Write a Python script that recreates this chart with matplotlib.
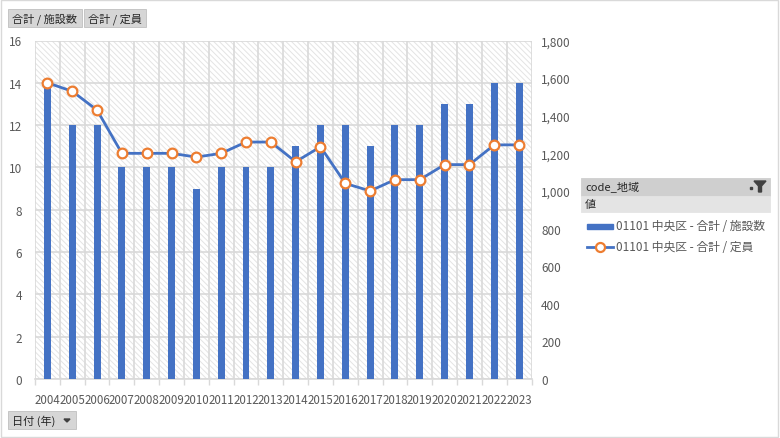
import matplotlib.pyplot as plt
from matplotlib.patches import Rectangle, Polygon
from matplotlib.lines import Line2D
import numpy as np

plt.rcParams['font.family'] = ['Noto Sans CJK JP', 'DejaVu Sans']
plt.rcParams['hatch.linewidth'] = 0.7

years = ['2004', '2005', '2006', '2007', '2008', '2009', '2010', '2011', '2012', '2013',
         '2014', '2015', '2016', '2017', '2018', '2019', '2020', '2021', '2022', '2023']
shisetsu = [14, 12, 12, 10, 10, 10, 9, 10, 10, 10, 11, 12, 12, 11, 12, 12, 13, 13, 14, 14]
teiin = [1575, 1530, 1430, 1200, 1200, 1200, 1180, 1200, 1260, 1260,
         1155, 1235, 1040, 1000, 1060, 1060, 1140, 1140, 1245, 1245]

blue = '#4472C4'
orange = '#ED7D31'
grey_txt = '#595959'
grid_c = '#d9d9d9'

W, H = 780, 439
fig = plt.figure(figsize=(W / 100, H / 100), dpi=100)


def fx(x):
    return x / W


def fy(y):
    return 1 - y / H


# plot area
x0, x1, y0, y1 = 35, 531.5, 41.5, 380
ax = fig.add_axes([fx(x0), fy(y1), fx(x1) - fx(x0), fy(y0) - fy(y1)])
xs = np.arange(len(years))

ax.add_patch(Rectangle((0, 0), 1, 1, transform=ax.transAxes, facecolor='white',
                       edgecolor='#e4e4e4', hatch='\\' * 6, lw=0, zorder=0))
ax.bar(xs, shisetsu, width=0.28, color=blue, zorder=3)
ax.set_xlim(-0.5, len(years) - 0.5)
ax.set_ylim(0, 16)
ax.set_yticks(range(0, 17, 2))
ax.set_xticks(xs)
ax.set_xticklabels(years)
ax.set_xticks(np.arange(-0.5, len(years), 1), minor=True)
ax.yaxis.grid(True, color=grid_c, lw=1.2, zorder=1)
ax.xaxis.grid(True, which='minor', color=grid_c, lw=1.2, zorder=1)
ax.set_axisbelow(True)
ax.tick_params(axis='x', which='major', length=0, pad=10, labelsize=8.3, colors=grey_txt)
ax.tick_params(axis='x', which='minor', length=4, color=grid_c, width=1)
ax.tick_params(axis='y', length=0, pad=9.5, labelsize=8.5, colors=grey_txt)
for s in ['top', 'right', 'left']:
    ax.spines[s].set_visible(False)
ax.spines['bottom'].set_color(grid_c)
ax.spines['bottom'].set_linewidth(1.2)

ax2 = ax.twinx()
ax2.plot(xs, teiin, color=blue, lw=2, marker='o', ms=7, mfc='white', mec=orange, mew=1.6, zorder=5)
ax2.set_ylim(0, 1800)
ax2.set_yticks(range(0, 1801, 200))
ax2.set_yticklabels([f'{v:,}' for v in range(0, 1801, 200)])
ax2.tick_params(axis='y', length=0, pad=7, labelsize=8.5, colors=grey_txt)
for s in ax2.spines.values():
    s.set_visible(False)


# buttons and field pane
def box(x, y, w, h, fc, ec='#bfbfbf'):
    fig.patches.append(Rectangle((fx(x), fy(y + h)), w / W, h / H, transform=fig.transFigure,
                                 facecolor=fc, edgecolor=ec, lw=0.6))


box(8, 10, 74, 18, '#d6d6d6')
box(84, 10, 62, 18, '#d6d6d6')
fig.text(fx(12), fy(19), '合計 / 施設数', fontsize=8, va='center', color='#262626')
fig.text(fx(88), fy(19), '合計 / 定員', fontsize=8, va='center', color='#262626')

box(8, 412, 68, 18, '#d6d6d6')
fig.text(fx(12), fy(421), '日付 (年)', fontsize=8, va='center', color='#262626')
fig.patches.append(Polygon([(fx(64), fy(420)), (fx(70), fy(420)), (fx(67), fy(423))],
                           closed=True, transform=fig.transFigure, color='#404040'))

box(581, 179, 189, 18, '#cfcfcf', ec='#cfcfcf')
box(581, 197, 189, 16, '#e4e4e4', ec='#e4e4e4')
fig.text(fx(585), fy(188), 'code_地域', fontsize=8, va='center', color='#262626')
fig.text(fx(585), fy(205), '値', fontsize=8, va='center', color='#262626')
fig.patches.append(Polygon([(fx(754), fy(182)), (fx(766), fy(182)), (fx(761.5), fy(187)),
                            (fx(761.5), fy(193)), (fx(758.5), fy(193)), (fx(758.5), fy(187))],
                           closed=True, transform=fig.transFigure, color='#404040'))
fig.patches.append(Rectangle((fx(750), fy(190)), 2 / W, 2 / H, transform=fig.transFigure, color='#404040'))

# legend
fig.patches.append(Rectangle((fx(587), fy(230)), 26 / W, 5 / H, transform=fig.transFigure, color=blue))
fig.text(fx(616), fy(227), '01101 中央区 - 合計 / 施設数', fontsize=8.5, va='center', color=grey_txt)
fig.lines.append(Line2D([fx(587), fx(613)], [fy(248), fy(248)], transform=fig.transFigure,
                        color=blue, lw=2))
fig.lines.append(Line2D([fx(600)], [fy(248)], transform=fig.transFigure, marker='o', ms=6.5,
                        mfc='white', mec=orange, mew=1.6, lw=0))
fig.text(fx(616), fy(248), '01101 中央区 - 合計 / 定員', fontsize=8.5, va='center', color=grey_txt)

# outer border
fig.patches.append(Rectangle((0.001, 0.002), 0.997, 0.996, transform=fig.transFigure,
                             facecolor='none', edgecolor='#d9d9d9', lw=1))

fig.savefig('out.png', dpi=100)
